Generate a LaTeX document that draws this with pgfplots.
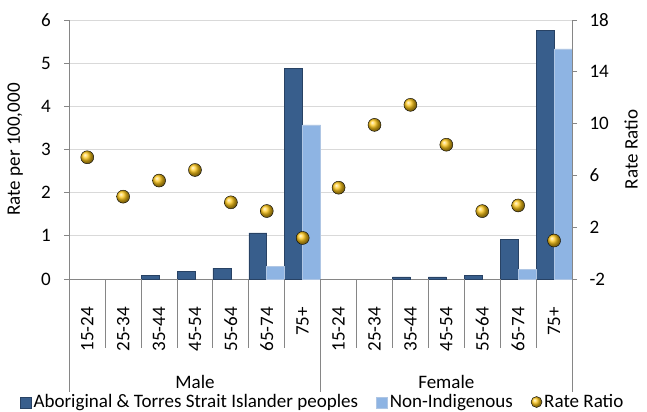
\documentclass[border=0pt]{standalone}
\usepackage{fontspec}
\setmainfont{Carlito}
\usepackage{pgfplots}
\pgfplotsset{compat=1.18}
\definecolor{darkbar}{RGB}{56,94,140}
\definecolor{darkedge}{RGB}{40,66,100}
\definecolor{lightbar}{RGB}{142,180,227}
\definecolor{lightedge}{RGB}{175,198,228}
\definecolor{gridc}{RGB}{217,217,217}
\definecolor{axc}{RGB}{134,134,134}
\definecolor{goldc}{RGB}{255,200,25}
\begin{document}
\begin{tikzpicture}[font=\fontsize{19.1pt}{22pt}\selectfont]
\path[use as bounding box] (-69.3bp,-133bp) rectangle (577.7bp,279bp);
\begin{axis}[
  at={(0,0)}, anchor=south west,
  scale only axis, width=502.7bp, height=259bp,
  xmin=-0.5, xmax=13.5, ymin=0, ymax=6,
  axis x line*=bottom, axis y line*=left,
  axis line style={draw=axc, line width=0.9bp},
  ytick={0,1,2,3,4,5,6},
  yticklabel style={xshift=-10bp},
  ymajorgrids, grid style={draw=gridc, line width=0.9bp},
  major tick style={draw=axc, line width=0.9bp},
  major tick length=5bp, tick align=outside,
  major x tick style={draw=none},
  xtick={0,...,13},
  xticklabels={15-24,25-34,35-44,45-54,55-64,65-74,75+,15-24,25-34,35-44,45-54,55-64,65-74,75+},
  xticklabel style={yshift=-23bp, rotate=90, anchor=east, inner sep=0pt},
  /pgf/number format/assume math mode=true,
  clip=false,
  ylabel={Rate per 100,000},
  ylabel style={at={(axis description cs:-0.1074,0.5)}, anchor=center},
  legend style={at={(0.5,0)}, anchor=center, xshift=2bp, yshift=-123bp, draw=none, fill=none,
    legend columns=3, inner sep=0pt,
    /tikz/every even column/.append style={column sep=16bp}},
  legend cell align=left,
]
\addplot[ybar, bar width=0.5, bar shift=-0.25, fill=darkbar, draw=darkedge, line width=0.6bp,
  legend image code/.code={\draw[fill=darkbar, draw=darkedge] (0bp,-6bp) rectangle (11bp,5bp);}]
  coordinates {(2,0.08) (3,0.17) (4,0.25) (5,1.07) (6,4.88)
               (9,0.05) (10,0.05) (11,0.09) (12,0.91) (13,5.75)};
\addlegendentry{Aboriginal \& Torres Strait Islander peoples}
\addplot[ybar, bar width=0.5, bar shift=0.25, fill=lightbar, draw=lightedge, line width=0.6bp,
  legend image code/.code={\draw[fill=lightbar, draw=lightedge] (0bp,-6bp) rectangle (11bp,5bp);}]
  coordinates {(5,0.29) (6,3.57) (12,0.22) (13,5.33)};
\addlegendentry{Non-Indigenous}
\addlegendimage{only marks, mark=ball, mark size=5.5bp, mark options={ball color=goldc}}
\addlegendentry{Rate Ratio}
\pgfplotsinvokeforeach{0.5,1.5,2.5,3.5,4.5,5.5,7.5,8.5,9.5,10.5,11.5,12.5}{
  \draw[axc, line width=0.9bp] (axis cs:#1,0) -- ([yshift=-69bp]axis cs:#1,0);
}
\pgfplotsinvokeforeach{-0.5,6.5,13.5}{
  \draw[axc, line width=0.9bp] (axis cs:#1,0) -- ([yshift=-113bp]axis cs:#1,0);
}
\node[anchor=base, yshift=-109bp] at (axis cs:3,0) {Male};
\node[anchor=base, yshift=-109bp] at (axis cs:10,0) {Female};
\end{axis}
\begin{axis}[
  at={(0,0)}, anchor=south west,
  scale only axis, width=502.7bp, height=259bp,
  xmin=-0.5, xmax=13.5, ymin=-2, ymax=18,
  axis y line*=right, axis x line=none,
  axis line style={draw=axc, line width=0.9bp},
  ytick={-2,2,6,10,14,18},
  yticklabel style={xshift=9bp},
  major tick style={draw=axc, line width=0.9bp},
  major tick length=5bp, tick align=outside,
  /pgf/number format/assume math mode=true,
  clip=false,
  ylabel={Rate Ratio},
  ylabel style={at={(axis description cs:1.1174,0.5)}, anchor=center},
]
\addplot[only marks, mark=ball, mark size=6.5bp, mark options={ball color=goldc}]
  coordinates {(0,7.4) (1,4.36) (2,5.6) (3,6.42) (4,3.92) (5,3.25) (6,1.17)
               (7,5.05) (8,9.9) (9,11.45) (10,8.37) (11,3.24) (12,3.68) (13,0.97)};
\end{axis}
\end{tikzpicture}
\end{document}
